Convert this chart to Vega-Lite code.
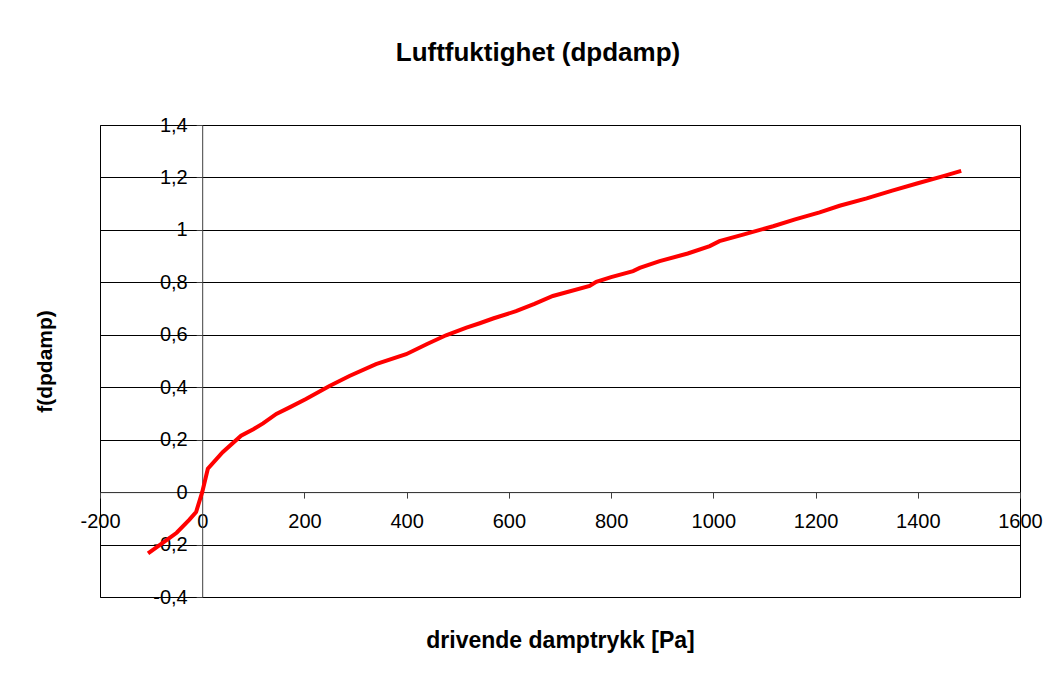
{
  "$schema": "https://vega.github.io/schema/vega-lite/v6.json",
  "width": 920,
  "height": 472,
  "autosize": {"type": "none"},
  "padding": {"left": 100, "top": 125, "right": 35, "bottom": 76},
  "background": "white",
  "title": {
    "text": "Luftfuktighet (dpdamp)",
    "font": "Liberation Sans",
    "fontSize": 26,
    "fontWeight": "bold",
    "color": "black",
    "anchor": "middle",
    "frame": "group",
    "dx": -22,
    "offset": 49
  },
  "config": {"view": {"stroke": "black", "strokeWidth": 1}},
  "data": {
    "values": [
      {"dp": -106, "f": -0.234},
      {"dp": -80, "f": -0.197},
      {"dp": -50, "f": -0.155},
      {"dp": -25, "f": -0.105},
      {"dp": -12, "f": -0.076},
      {"dp": 0, "f": 0.0},
      {"dp": 11, "f": 0.089},
      {"dp": 40, "f": 0.152},
      {"dp": 76, "f": 0.215},
      {"dp": 100, "f": 0.24},
      {"dp": 119, "f": 0.262},
      {"dp": 145, "f": 0.298},
      {"dp": 171, "f": 0.323},
      {"dp": 203, "f": 0.355},
      {"dp": 249, "f": 0.405},
      {"dp": 288, "f": 0.443},
      {"dp": 340, "f": 0.488},
      {"dp": 399, "f": 0.526},
      {"dp": 440, "f": 0.565},
      {"dp": 477, "f": 0.598},
      {"dp": 517, "f": 0.627},
      {"dp": 543, "f": 0.644},
      {"dp": 569, "f": 0.662},
      {"dp": 614, "f": 0.69},
      {"dp": 650, "f": 0.718},
      {"dp": 686, "f": 0.748},
      {"dp": 758, "f": 0.786},
      {"dp": 771, "f": 0.802},
      {"dp": 800, "f": 0.82},
      {"dp": 843, "f": 0.843},
      {"dp": 856, "f": 0.855},
      {"dp": 895, "f": 0.881},
      {"dp": 950, "f": 0.91},
      {"dp": 993, "f": 0.938},
      {"dp": 1012, "f": 0.957},
      {"dp": 1060, "f": 0.983},
      {"dp": 1117, "f": 1.014},
      {"dp": 1160, "f": 1.04},
      {"dp": 1208, "f": 1.067},
      {"dp": 1247, "f": 1.092},
      {"dp": 1300, "f": 1.12},
      {"dp": 1350, "f": 1.15},
      {"dp": 1400, "f": 1.178},
      {"dp": 1450, "f": 1.205},
      {"dp": 1485, "f": 1.225}
    ]
  },
  "mark": {"type": "line", "color": "#ff0000", "strokeWidth": 4},
  "encoding": {
    "x": {
      "field": "dp",
      "type": "quantitative",
      "scale": {"domain": [-200, 1600], "nice": false, "zero": false},
      "axis": {
        "orient": "bottom",
        "values": [-200, 0, 200, 400, 600, 800, 1000, 1200, 1400, 1600],
        "offset": -104.9,
        "grid": false,
        "domainColor": "#404040",
        "tickColor": "#404040",
        "tickSize": 6,
        "labelFont": "Liberation Sans",
        "labelFontSize": 20,
        "labelColor": "black",
        "labelPadding": 13,
        "labelFlush": false,
        "labelOverlap": false,
        "labelBound": false,
        "labelExpr": "toString(datum.value)",
        "title": "drivende damptrykk [Pa]",
        "titleFont": "Liberation Sans",
        "titleFontSize": 23,
        "titleFontWeight": "bold",
        "titleColor": "black",
        "titleX": 460,
        "titleY": 148,
        "titleAlign": "center",
        "titleBaseline": "middle"
      }
    },
    "y": {
      "field": "f",
      "type": "quantitative",
      "scale": {"domain": [-0.4, 1.4], "nice": false, "zero": false},
      "axis": {
        "orient": "left",
        "values": [-0.4, -0.2, 0, 0.2, 0.4, 0.6, 0.8, 1, 1.2, 1.4],
        "offset": -102.2,
        "grid": true,
        "gridColor": "black",
        "gridOpacity": 1,
        "gridWidth": 1,
        "domainColor": "#404040",
        "tickColor": "#404040",
        "tickSize": 6,
        "labelFont": "Liberation Sans",
        "labelFontSize": 20,
        "labelColor": "black",
        "labelPadding": 9,
        "labelOverlap": false,
        "labelBound": false,
        "labelFlush": false,
        "labelExpr": "replace(toString(datum.value), '.', ',')",
        "title": "f(dpdamp)",
        "titleFont": "Liberation Sans",
        "titleFontSize": 21,
        "titleFontWeight": "bold",
        "titleColor": "black",
        "titleX": -157,
        "titleY": 236,
        "titleAngle": -90,
        "titleAlign": "center",
        "titleBaseline": "middle"
      }
    }
  }
}
